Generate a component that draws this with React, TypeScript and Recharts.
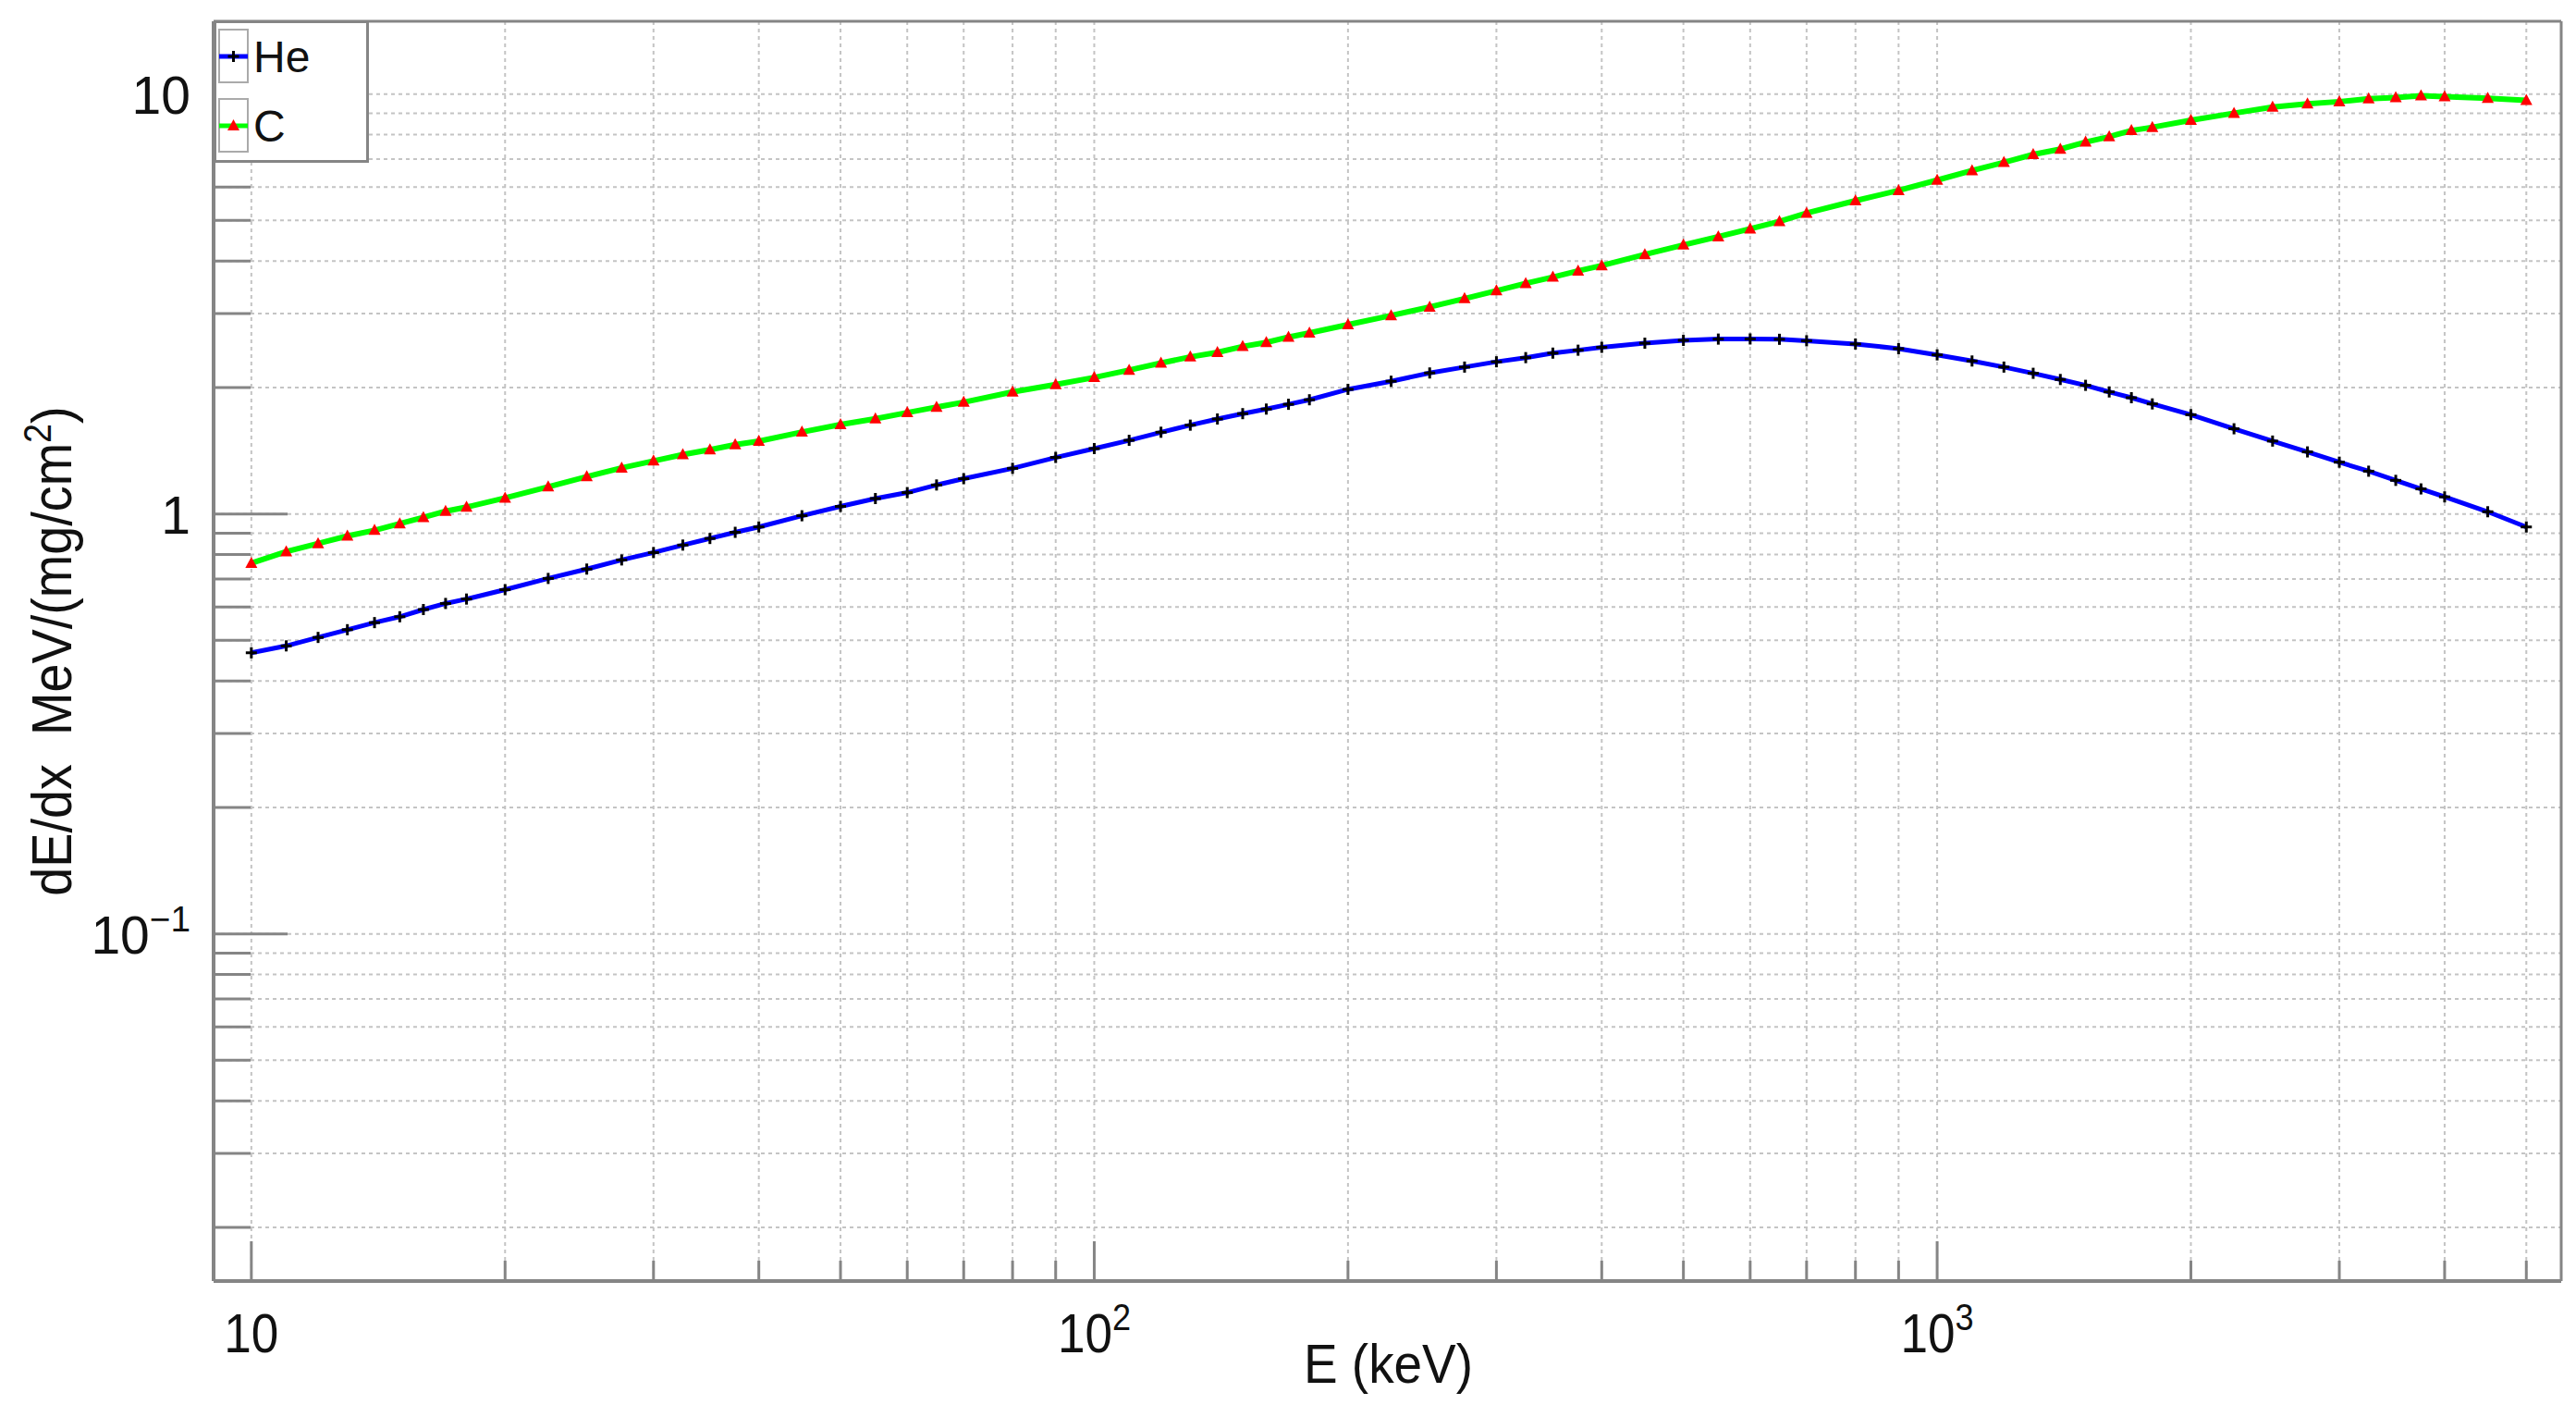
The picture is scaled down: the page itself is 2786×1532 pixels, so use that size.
import React from "react";
import { LineChart, Line, XAxis, YAxis, CartesianGrid, Legend } from "recharts";

const FONT = '"Liberation Sans", Arial, Helvetica, sans-serif';
const FRAME = "#858585";
const GRID = "#c4c4c4";

// SRIM energy table (keV)
const energies = [
  10, 11, 12, 13, 14, 15, 16, 17, 18, 20, 22.5, 25, 27.5, 30, 32.5, 35, 37.5, 40, 45, 50, 55, 60, 65, 70, 80, 90,
  100, 110, 120, 130, 140, 150, 160, 170, 180, 200, 225, 250, 275, 300, 325, 350, 375, 400, 450, 500, 550, 600,
  650, 700, 800, 900, 1000, 1100, 1200, 1300, 1400, 1500, 1600, 1700, 1800, 2000, 2250, 2500, 2750, 3000, 3250,
  3500, 3750, 4000, 4500, 5000,
];

const heValues = [
  0.467, 0.485, 0.508, 0.53, 0.551, 0.569, 0.592, 0.612, 0.627, 0.66, 0.702, 0.739, 0.777, 0.809, 0.843, 0.874,
  0.904, 0.931, 0.99, 1.042, 1.088, 1.124, 1.172, 1.213, 1.284, 1.363, 1.431, 1.497, 1.565, 1.627, 1.683, 1.733,
  1.777, 1.824, 1.87, 1.98, 2.07, 2.166, 2.237, 2.303, 2.356, 2.415, 2.454, 2.493, 2.55, 2.59, 2.608, 2.61, 2.605,
  2.584, 2.539, 2.475, 2.392, 2.313, 2.237, 2.162, 2.09, 2.024, 1.952, 1.891, 1.828, 1.723, 1.595, 1.491, 1.405,
  1.328, 1.264, 1.202, 1.147, 1.098, 1.012, 0.931,
];

const cValues = [
  0.763, 0.813, 0.85, 0.886, 0.914, 0.948, 0.981, 1.015, 1.038, 1.091, 1.16, 1.227, 1.287, 1.337, 1.384, 1.422,
  1.462, 1.49, 1.567, 1.632, 1.685, 1.743, 1.796, 1.845, 1.952, 2.033, 2.113, 2.2, 2.287, 2.366, 2.425, 2.505,
  2.56, 2.637, 2.698, 2.823, 2.968, 3.11, 3.257, 3.4, 3.54, 3.664, 3.79, 3.903, 4.148, 4.37, 4.573, 4.774, 4.971,
  5.203, 5.57, 5.892, 6.236, 6.57, 6.874, 7.177, 7.391, 7.682, 7.911, 8.185, 8.33, 8.66, 9.0, 9.31, 9.48, 9.59,
  9.74, 9.81, 9.9, 9.86, 9.77, 9.66,
];

const xTicks = [10, 20, 30, 40, 50, 60, 70, 80, 90, 100, 200, 300, 400, 500, 600, 700, 800, 900, 1000, 2000, 3000, 4000, 5000];
const yTicks = [
  0.02, 0.03, 0.04, 0.05, 0.06, 0.07, 0.08, 0.09, 0.1, 0.2, 0.3, 0.4, 0.5, 0.6, 0.7, 0.8, 0.9, 1, 2, 3, 4, 5, 6,
  7, 8, 9, 10,
];

const seriesNames = ["He", "C"];

const data = energies.map((e, i) => ({ e, He: heValues[i], C: cValues[i] }));

const isMajor = (v: number) => Math.abs(Math.log10(v) - Math.round(Math.log10(v))) < 1e-9;

// ROOT style power-of-ten label, squeezed a bit horizontally like the original font
function PowerText(props: { v: number; x: number; y: number; anchor: string; size: number; sx: number; supDy: number }) {
  const { v, x, y, anchor, size, sx, supDy } = props;
  const exp = Math.round(Math.log10(v));
  let body: React.ReactNode;
  if (exp === 0) body = "1";
  else if (exp === 1) body = "10";
  else
    body = (
      <>
        <tspan>10</tspan>
        <tspan dy={-supDy} fontSize={size * 0.68}>
          {exp < 0 ? "\u2212" + -exp : String(exp)}
        </tspan>
      </>
    );
  return (
    <g transform={`translate(${x},${y}) scale(${sx},1)`}>
      <text x={0} y={0} textAnchor={anchor as any} fontSize={size} fill="#111" fontFamily={FONT}>
        {body}
      </text>
    </g>
  );
}

const XTick = (props: any) => {
  const { x, y, payload } = props;
  const major = isMajor(payload.value);
  return (
    <g>
      <line x1={x} x2={x} y1={y} y2={y - (major ? 43 : 22)} stroke={FRAME} strokeWidth={3} />
      {major && <PowerText v={payload.value} x={x} y={y + 77} anchor="middle" size={59} sx={0.9} supDy={24} />}
    </g>
  );
};

const YTick = (props: any) => {
  const { x, y, payload } = props;
  const major = isMajor(payload.value);
  return (
    <g>
      <line x1={x} x2={x + (major ? 80 : 40)} y1={y} y2={y} stroke={FRAME} strokeWidth={3} />
      {major && <PowerText v={payload.value} x={x - 25} y={y + 21} anchor="end" size={57} sx={1} supDy={24} />}
    </g>
  );
};

const PlusDot = ({ cx, cy }: { cx: number; cy: number }) => (
  <g>
    <line x1={cx - 6} x2={cx + 6} y1={cy} y2={cy} stroke="#000" strokeWidth={3} />
    <line x1={cx} x2={cx} y1={cy - 6} y2={cy + 6} stroke="#000" strokeWidth={3} />
  </g>
);

const TriangleDot = ({ cx, cy }: { cx: number; cy: number }) => (
  <polygon points={`${cx},${cy - 7} ${cx - 6.5},${cy + 5} ${cx + 6.5},${cy + 5}`} fill="#ff0000" />
);

const lineColors: Record<string, string> = { He: "#0000ff", C: "#00ff00" };

const LegendBox = () => (
  <svg width={168} height={154} style={{ display: "block" }}>
    <rect x={1.5} y={1.5} width={165} height={151} fill="#fff" stroke={FRAME} strokeWidth={3} />
    {seriesNames.map((name, i) => {
      const cy = 39 + i * 75;
      return (
        <g key={name}>
          <rect x={6} y={cy - 29} width={31} height={57} fill="none" stroke="#aaa" strokeWidth={2} />
          <line x1={6} x2={37} y1={cy} y2={cy} stroke={lineColors[name]} strokeWidth={5} />
          {name === "He" ? <PlusDot cx={21.5} cy={cy} /> : <TriangleDot cx={21.5} cy={cy} />}
          <text x={43} y={cy + 17} fontSize={48} fontFamily={FONT} fill="#111">
            {name}
          </text>
        </g>
      );
    })}
  </svg>
);

const XTitle = (props: any) => {
  const vb = props.viewBox;
  const x = vb.x + vb.width / 2 + 1;
  const y = vb.y + 110;
  return (
    <g transform={`translate(${x},${y}) scale(0.915,1)`}>
      <text x={0} y={0} textAnchor="middle" fontSize={60} fontFamily={FONT} fill="#111">
        E (keV)
      </text>
    </g>
  );
};

const YTitle = (props: any) => {
  const vb = props.viewBox;
  const x = vb.x + 69;
  const y = vb.y + vb.height / 2;
  return (
    <g transform={`translate(${x},${y}) rotate(-90) scale(0.9,1)`}>
      <text x={0} y={0} textAnchor="middle" fontSize={62} fontFamily={FONT} fill="#111" style={{ whiteSpace: "pre" }}>
        <tspan>{"dE/dx  MeV/(mg/cm"}</tspan>
        <tspan dy={-22} fontSize={42}>
          2
        </tspan>
        <tspan dy={22}>)</tspan>
      </text>
    </g>
  );
};

export default function App() {
  return (
    <div style={{ width: 2778, height: 1524, fontFamily: FONT, background: "#fff" }}>
      <LineChart width={2778} height={1524} data={data} margin={{ top: 14, right: 15, left: 0, bottom: 0 }}>
        <CartesianGrid stroke={GRID} strokeDasharray="4 4" strokeWidth={2} />
        <XAxis
          dataKey="e"
          type="number"
          scale="log"
          domain={[9.02, 5500]}
          allowDataOverflow
          ticks={xTicks}
          interval={0}
          height={147}
          tickSize={0}
          tickMargin={0}
          tickLine={false}
          tick={<XTick />}
          axisLine={{ stroke: FRAME, strokeWidth: 4 }}
          label={XTitle}
        />
        <XAxis
          xAxisId="top"
          orientation="top"
          type="number"
          domain={[0, 1]}
          height={1}
          tick={false}
          tickLine={false}
          axisLine={{ stroke: FRAME, strokeWidth: 3 }}
        />
        <YAxis
          type="number"
          scale="log"
          domain={[0.0149, 14.9]}
          allowDataOverflow
          ticks={yTicks}
          interval={0}
          width={223}
          tickSize={0}
          tickMargin={0}
          tickLine={false}
          tick={<YTick />}
          axisLine={{ stroke: FRAME, strokeWidth: 4 }}
          label={YTitle}
        />
        <YAxis
          yAxisId="right"
          orientation="right"
          type="number"
          domain={[0, 1]}
          width={1}
          tick={false}
          tickLine={false}
          axisLine={{ stroke: FRAME, strokeWidth: 3 }}
        />
        <Legend
          layout="horizontal"
          verticalAlign="middle"
          align="center"
          wrapperStyle={{ left: 223, top: 14, width: 168, height: 154 }}
          content={LegendBox}
        />
        <Line
          name="He"
          dataKey="He"
          type="linear"
          stroke={lineColors.He}
          strokeWidth={5}
          isAnimationActive={false}
          dot={(p: any) => <PlusDot key={`he-${p.index}`} cx={p.cx} cy={p.cy} />}
          activeDot={false}
        />
        <Line
          name="C"
          dataKey="C"
          type="linear"
          stroke={lineColors.C}
          strokeWidth={6}
          isAnimationActive={false}
          dot={(p: any) => <TriangleDot key={`c-${p.index}`} cx={p.cx} cy={p.cy} />}
          activeDot={false}
        />
      </LineChart>
    </div>
  );
}
